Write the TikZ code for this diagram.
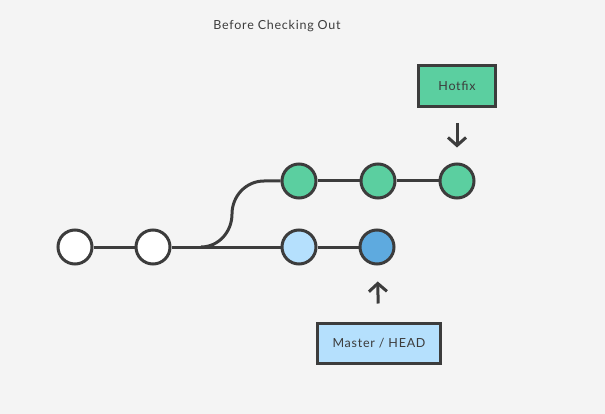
\documentclass[tikz,border=0pt]{standalone}
\usepackage{fontspec}
\setmainfont[LetterSpace=6]{Lato}
\usetikzlibrary{arrows.meta}
\definecolor{bgcol}{HTML}{F4F4F4}
\definecolor{linecol}{HTML}{3C3C3C}
\definecolor{greencol}{HTML}{5BCFA0}
\definecolor{lightbluecol}{HTML}{B5E0FD}
\definecolor{bluecol}{HTML}{5EAADF}
\tikzset{
  commit/.style={circle,draw=linecol,line width=3pt,minimum size=34pt,inner sep=0pt},
  branch/.style={draw=linecol,line width=3pt,font=\fontsize{12.5}{14}\selectfont,text=linecol},
  link/.style={draw=linecol,line width=3pt},
  pointer/.style={draw=linecol,line width=3pt,-{Straight Barb[length=8pt,width=18pt]}}
}
\begin{document}
\begin{tikzpicture}[x=1pt,y=-1pt]
%背景
\fill[bgcol] (0,0) rectangle (605,414);
\useasboundingbox (0,0) rectangle (605,414);

%标题
\node[text=linecol,font=\fontsize{12.5}{14}\selectfont] (title) at (277,26) {Before Checking Out};

%下面一行的提交
\node[commit,fill=white] (c1) at (75,247) {};
\node[commit,fill=white] (c2) at (153,247) {};
\node[commit,fill=lightbluecol] (m1) at (299,247) {};
\node[commit,fill=bluecol] (m2) at (377,247) {};

%上面一行的提交
\node[commit,fill=greencol] (h1) at (299,181) {};
\node[commit,fill=greencol] (h2) at (378,181) {};
\node[commit,fill=greencol] (h3) at (457,181) {};

%连线
\draw[link] (c1) -- (c2);
\draw[link] (c2) -- (m1);
\draw[link] (m1) -- (m2);
\draw[link] (h1) -- (h2);
\draw[link] (h2) -- (h3);

%分叉的曲线
\coordinate (fork) at (201,247);
\coordinate (bend) at (232,214);
\coordinate (turn) at (264,181);
\draw[link] (fork) to[out=0,in=-90] (bend) to[out=90,in=180] (turn) -- (h1);

%分支标签
\node[branch,fill=greencol,minimum width=77pt,minimum height=41pt] (hotfix) at (457,86) {Hotfix};
\node[branch,fill=lightbluecol,minimum width=123pt,minimum height=40pt] (master) at (379,343) {Master / HEAD};

%箭头
\draw[pointer,shorten <=15pt,shorten >=15pt] (hotfix) -- (h3);
\draw[pointer,shorten <=18pt,shorten >=16pt] (master) -- (m2);

\end{tikzpicture}
\end{document}
